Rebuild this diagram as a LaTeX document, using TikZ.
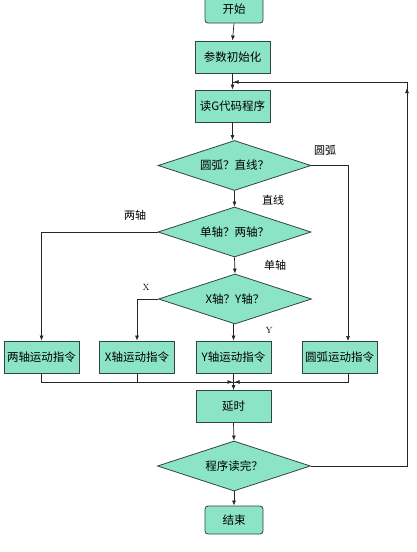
\documentclass[tikz,border=0pt]{standalone}
\usepackage{fontspec}
\newfontfamily\cjk{Noto Sans CJK SC}
\usetikzlibrary{shapes.geometric,arrows.meta}
\definecolor{mint}{RGB}{140,228,198}
\definecolor{edge}{RGB}{50,70,60}
\tikzset{
  box/.style={draw=edge, line width=0.8pt, fill=mint, minimum width=75pt, minimum height=32pt, inner sep=0pt, font=\cjk\fontsize{11.5}{12}\selectfont},
  termbox/.style={box, rounded corners=3pt, minimum width=58pt, minimum height=28pt},
  decide/.style={draw=edge, line width=0.8pt, fill=mint, diamond, aspect=3.1, minimum width=153pt, minimum height=50pt, inner sep=0pt, font=\cjk\fontsize{11.5}{12}\selectfont},
  lbl/.style={font=\cjk\fontsize{11}{12}\selectfont, inner sep=0pt},
  conn/.style={draw=black!85, line width=0.7pt},
  arr/.style={conn, -{Latex[length=5pt,width=4pt]}}
}
\begin{document}
\begin{tikzpicture}[x=1pt,y=-1pt]
\useasboundingbox (0,0) rectangle (417,552);
\fill[white] (0,0) rectangle (417,552);
\begin{scope}
\clip (0,0) rectangle (417,552);
\node[termbox] (start) at (234,9) {开始};
\end{scope}
\node[box] (init) at (232.5,57) {参数初始化};
\coordinate (m1) at (232.5,82);
\node[box] (read) at (232.5,106) {读G代码程序};
\node[decide] (d1) at (234.5,165.5) {圆弧？直线？};
\node[decide] (d2) at (234.5,232) {单轴？两轴？};
\node[decide] (d3) at (235,299) {X轴？Y轴？};
\node[box] (b1) at (41.5,357) {两轴运动指令};
\node[box] (b2) at (137,357) {X轴运动指令};
\node[box] (b3) at (233.5,357) {Y轴运动指令};
\node[box] (b4) at (339.5,357) {圆弧运动指令};
\coordinate (b4in) at (348,341);
\coordinate (b4out) at (348,373);
\coordinate (m2) at (233.5,382);
\node[box] (delay) at (233.5,406.5) {延时};
\node[decide] (d4) at (234,466) {程序读完？};
\node[termbox] (end) at (234,520) {结束};

\draw[arr] (start.south) -- (init.north);
\draw[arr] (init.south) -- (read.north);
\draw[arr] (read.south) -- (read.south |- d1.north);
\draw[arr] (d1.south) -- (d2.north);
\draw[arr] (d2.south) -- (d3.north);
\draw[arr] (d3.south -| b3.north) -- (b3.north);
\draw[arr] (d1.east) -| (b4in);
\draw[arr] (d2.west) -| (b1.north);
\draw[arr] (d3.west) -| (b2.north);
% merge below boxes
\draw[conn] (b1.south) |- (m2);
\draw[conn] (b2.south) |- (m2);
\draw[conn] (b4out) |- (m2);
\draw[arr] (b1.south |- m2) -- ([xshift=-1pt]m2);
\draw[arr] (b4out |- m2) -- ([xshift=1pt]m2);
\draw[arr] (b3.south) -- (delay.north);
\draw[arr] (delay.south) -- (d4.north);
\draw[arr] (d4.south) -- (end.north);
% feedback loop
\coordinate (fb) at (407,466);
\coordinate (fbtop) at (407,82);
\coordinate (fbmid) at (407,120);
\coordinate (fbup) at (407,88);
\draw[conn] (d4.east) -- (fb) -- (fbtop) -- (m1);
\draw[arr] (fbmid) -- (fbup);
\draw[arr] (fbtop) -- ([xshift=1pt]m1);

\node[lbl] (l1) at (325,150) {圆弧};
\node[lbl] (l2) at (273,200) {直线};
\node[lbl] (l3) at (135,215) {两轴};
\node[lbl] (l4) at (275,265) {单轴};
\node[lbl, font=\fontsize{9}{10}\selectfont] (l5) at (146,287) {X};
\node[lbl, font=\fontsize{9}{10}\selectfont] (l6) at (269,330) {Y};
\end{tikzpicture}
\end{document}
